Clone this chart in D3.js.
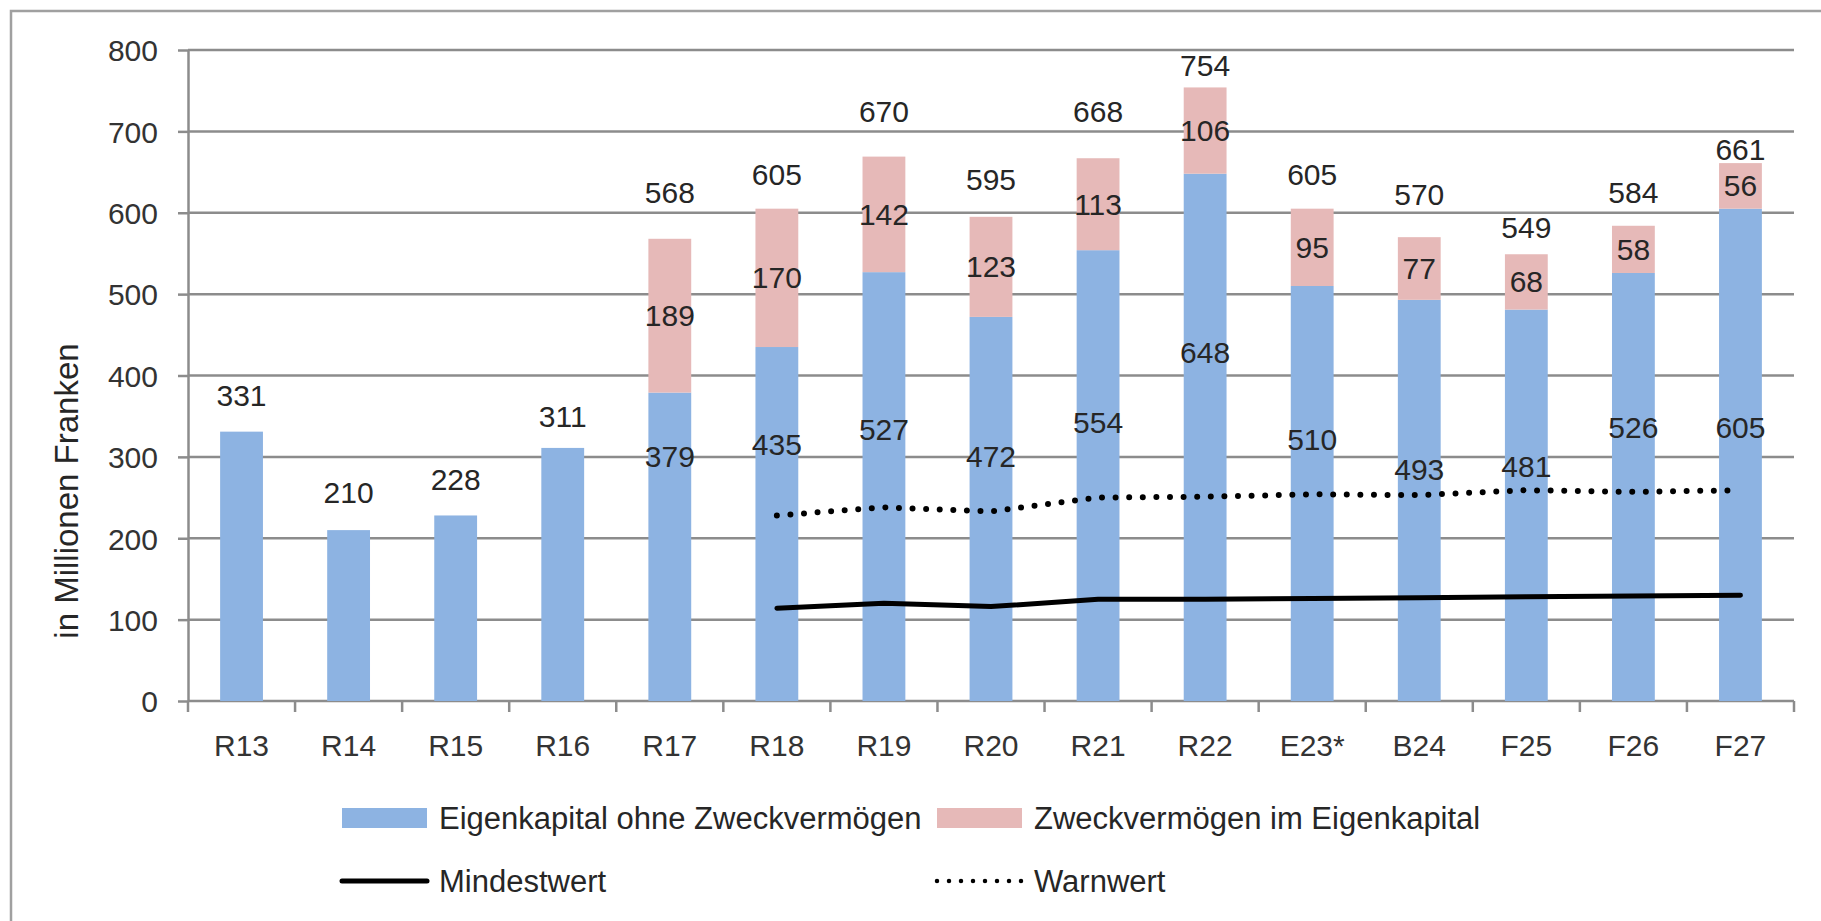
<!DOCTYPE html>
<html>
<head>
<meta charset="utf-8">
<title>Eigenkapital</title>
<script src="https://cdn.jsdelivr.net/npm/d3@7"></script>
<style type="text/css">
    body { margin: 0; background: #fff; }
    text { font-family: "Liberation Sans", Arial, sans-serif; fill: #262626; }
    .grid line { stroke: #8c8c8c; stroke-width: 2.5px; }
    .axis path, .axis line { stroke: #8c8c8c; stroke-width: 2.5px; }
    .axis text { font-size: 30px; fill: #333; }
    .lbl { font-size: 30px; }
    .leg { font-size: 31px; }
</style>
</head>
<body>
<script type="text/javascript">

// categories and series
var categories = ["R13","R14","R15","R16","R17","R18","R19","R20","R21","R22","E23*","B24","F25","F26","F27"];
var ohneZweck = [331,210,228,311,379,435,527,472,554,648,510,493,481,526,605];
var zweck     = [0,0,0,0,189,170,142,123,113,106,95,77,68,58,56];
var totals    = [331,210,228,311,568,605,670,595,668,754,605,570,549,584,661];
var mindest   = [null,null,null,null,null,114,120,116,125,125,126,127,128,129,130];
var warn      = [null,null,null,null,null,228,238,233,250,251,254,253,259,257,259];
var yTicks    = [0,100,200,300,400,500,600,700,800];

// where the labels sit in the original (value units)
var totalLabelAt = [375,256,272,350,625,647,725,641,725,781,647,623,582,625,678];
var ohneLabelAt  = [null,null,null,null,301,315,334,301,342,428,321,284,288,336,336];

var width = 1821, height = 921;
var plotLeft = 188, plotRight = 1794, plotTop = 50, plotBottom = 701;

var svg = d3.select("body").append("svg")
    .attr("width", width)
    .attr("height", height);

// frame
svg.append("path")
    .attr("d", "M11," + height + "V11H" + width)
    .attr("fill", "none")
    .attr("stroke", "#a0a0a0")
    .attr("stroke-width", 2.5);

var x = d3.scaleBand()
    .domain(categories)
    .range([plotLeft, plotRight])
    .paddingInner(0.6)
    .paddingOuter(0.3);

var y = d3.scaleLinear()
    .domain([0, 800])
    .range([plotBottom, plotTop]);

function cx(c) { return x(c) + x.bandwidth() / 2; }

// grid
svg.append("g")
    .attr("class", "grid")
    .selectAll("line")
    .data(yTicks.slice(1)).enter()
    .append("line")
    .attr("x1", plotLeft).attr("x2", plotRight)
    .attr("y1", function (d) { return y(d); })
    .attr("y2", function (d) { return y(d); });

// y axis
var yAxis = svg.append("g")
    .attr("class", "axis")
    .attr("transform", "translate(" + plotLeft + ",0)")
    .call(d3.axisLeft(y).tickValues(yTicks).tickSize(10).tickPadding(20).tickSizeOuter(0));
yAxis.selectAll("text").attr("dy", "0.36em");

// x axis, ticks between categories
var xAxis = svg.append("g")
    .attr("class", "axis")
    .attr("transform", "translate(0," + plotBottom + ")");
xAxis.append("line")
    .attr("x1", plotLeft).attr("x2", plotRight);
xAxis.selectAll(".tk")
    .data(d3.range(categories.length + 1)).enter()
    .append("line")
    .attr("class", "tk")
    .attr("x1", function (i) { return plotLeft + i * x.step(); })
    .attr("x2", function (i) { return plotLeft + i * x.step(); })
    .attr("y1", 0).attr("y2", 11);
xAxis.selectAll("text")
    .data(categories).enter()
    .append("text")
    .attr("x", cx)
    .attr("y", 44)
    .attr("text-anchor", "middle")
    .attr("dominant-baseline", "central")
    .text(function (d) { return d; });

// axis title
svg.append("text")
    .attr("transform", "translate(78,491) rotate(-90)")
    .attr("text-anchor", "middle")
    .style("font-size", "33px")
    .text("in Millionen Franken");

// bars
svg.append("g").selectAll("rect")
    .data(categories).enter()
    .append("rect")
    .attr("x", function (d) { return x(d); })
    .attr("width", x.bandwidth())
    .attr("y", function (d, i) { return y(ohneZweck[i]); })
    .attr("height", function (d, i) { return y(0) - y(ohneZweck[i]); })
    .attr("fill", "#8db3e2");

svg.append("g").selectAll("rect")
    .data(categories).enter()
    .append("rect")
    .attr("x", function (d) { return x(d); })
    .attr("width", x.bandwidth())
    .attr("y", function (d, i) { return y(ohneZweck[i] + zweck[i]); })
    .attr("height", function (d, i) { return y(ohneZweck[i]) - y(ohneZweck[i] + zweck[i]); })
    .attr("fill", "#e6b9b8");

// lines
var line = d3.line()
    .defined(function (d) { return d[1] !== null; })
    .x(function (d) { return cx(d[0]); })
    .y(function (d) { return y(d[1]); });

svg.append("path")
    .datum(categories.map(function (c, i) { return [c, mindest[i]]; }))
    .attr("fill", "none")
    .attr("stroke", "#000")
    .attr("stroke-width", 5)
    .attr("stroke-linecap", "round")
    .attr("stroke-linejoin", "round")
    .attr("d", line);

svg.append("path")
    .datum(categories.map(function (c, i) { return [c, warn[i]]; }))
    .attr("fill", "none")
    .attr("stroke", "#000")
    .attr("stroke-width", 6)
    .attr("stroke-linecap", "round")
    .attr("stroke-dasharray", "0,13.6")
    .attr("d", line);

// labels
var labels = svg.append("g");

labels.selectAll(".tot")
    .data(categories).enter()
    .append("text")
    .attr("class", "lbl tot")
    .attr("x", cx)
    .attr("y", function (d, i) { return y(totalLabelAt[i]); })
    .attr("text-anchor", "middle")
    .attr("dominant-baseline", "central")
    .text(function (d, i) { return totals[i]; });

labels.selectAll(".ohne")
    .data(categories.filter(function (d, i) { return ohneLabelAt[i] !== null; })).enter()
    .append("text")
    .attr("class", "lbl ohne")
    .attr("x", cx)
    .attr("y", function (d) { return y(ohneLabelAt[categories.indexOf(d)]); })
    .attr("text-anchor", "middle")
    .attr("dominant-baseline", "central")
    .text(function (d) { return ohneZweck[categories.indexOf(d)]; });

labels.selectAll(".zw")
    .data(categories.filter(function (d, i) { return zweck[i] > 0; })).enter()
    .append("text")
    .attr("class", "lbl zw")
    .attr("x", cx)
    .attr("y", function (d) { var i = categories.indexOf(d); return y(ohneZweck[i] + zweck[i] / 2); })
    .attr("text-anchor", "middle")
    .attr("dominant-baseline", "central")
    .text(function (d) { return zweck[categories.indexOf(d)]; });

// legend
var legend = [
    {name: "Eigenkapital ohne Zweckvermögen", type: "rect", color: "#8db3e2", x: 342, y: 818},
    {name: "Zweckvermögen im Eigenkapital", type: "rect", color: "#e6b9b8", x: 937, y: 818},
    {name: "Mindestwert", type: "solid", color: "#000", x: 342, y: 881},
    {name: "Warnwert", type: "dot", color: "#000", x: 937, y: 881}
];

var lg = svg.append("g").selectAll("g")
    .data(legend).enter()
    .append("g")
    .attr("transform", function (d) { return "translate(" + d.x + "," + d.y + ")"; });

lg.filter(function (d) { return d.type === "rect"; })
    .append("rect")
    .attr("x", 0).attr("y", -10)
    .attr("width", 85).attr("height", 20)
    .attr("fill", function (d) { return d.color; });

lg.filter(function (d) { return d.type !== "rect"; })
    .append("line")
    .attr("x1", 0)
    .attr("x2", 85)
    .attr("stroke", "#000")
    .attr("stroke-width", function (d) { return d.type === "dot" ? 4.5 : 5; })
    .attr("stroke-linecap", "round")
    .attr("stroke-dasharray", function (d) { return d.type === "dot" ? "0,12" : null; });

lg.append("text")
    .attr("class", "leg")
    .attr("x", 97)
    .attr("dominant-baseline", "central")
    .text(function (d) { return d.name; });

</script>
</body>
</html>
